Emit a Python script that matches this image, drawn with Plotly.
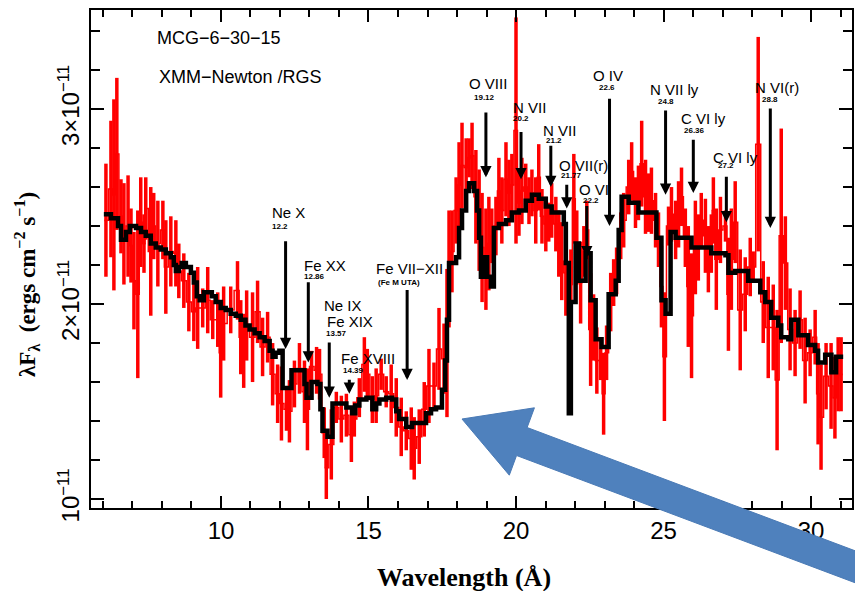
import plotly.graph_objects as go

# ---------------- data (flux in units of 1e-11 erg cm^-2 s^-1) ----------------
data_wl = [6.10, 6.27, 6.37, 6.47, 6.61, 6.71, 6.85, 6.95, 7.05, 7.18, 7.28, 7.39, 7.45, 7.62, 7.72, 7.86,
           8.03, 8.13, 8.30, 8.47, 8.57, 8.74, 8.91, 9.08, 9.21, 9.38, 9.55, 9.72, 9.89, 9.99, 10.09, 10.33,
           10.56, 10.67, 10.77, 10.87, 11.07, 11.24, 11.41, 11.58, 11.75, 11.92, 12.05, 12.22, 12.32, 12.49,
           12.66, 12.83, 12.93, 13.07, 13.24, 13.34, 13.50, 13.57, 13.74, 13.91, 14.08, 14.25, 14.42, 14.52,
           14.69, 14.86, 14.96, 15.13, 15.26, 15.43, 15.60, 15.77, 15.94, 16.11, 16.28, 16.45, 16.55, 16.72,
           16.89, 17.05, 17.22, 17.39, 17.56, 17.66, 17.73, 17.83, 17.97, 18.07, 18.17, 18.31, 18.41, 18.51,
           18.64, 18.75, 18.85, 18.98, 19.08, 19.18, 19.32, 19.42, 19.52, 19.66, 19.76, 19.86, 20.00, 20.10,
           20.20, 20.33, 20.44, 20.54, 20.67, 20.77, 20.88, 21.01, 21.11, 21.21, 21.35, 21.45, 21.55, 21.69,
           21.86, 21.96, 22.06, 22.19, 22.30, 22.40, 22.53, 22.63, 22.74, 22.87, 22.97, 23.07, 23.21, 23.31,
           23.41, 23.55, 23.65, 23.82, 23.92, 24.05, 24.15, 24.26, 24.39, 24.49, 24.59, 24.73, 24.83, 24.93,
           25.03, 25.17, 25.27, 25.41, 25.51, 25.61, 25.74, 25.84, 25.95, 26.08, 26.18, 26.28, 26.42, 26.52,
           26.62, 26.69, 26.79, 26.93, 27.10, 27.20, 27.30, 27.43, 27.60, 27.77, 27.94, 28.04, 28.21, 28.38,
           28.55, 28.72, 28.85, 28.99, 29.13, 29.29, 29.46, 29.63, 29.80, 29.97, 30.14, 30.24, 30.34, 30.51,
           30.68, 30.81, 30.92, 31.02]
data_flux = [2.43, 2.59, 2.56, 2.77, 2.45, 2.36, 2.40, 2.30, 2.12, 2.05, 2.42, 2.31, 2.49, 2.27, 2.40, 2.31,
             2.38, 2.19, 2.27, 2.26, 2.17, 2.12, 2.01, 1.96, 1.98, 1.98, 2.02, 1.92, 1.92, 1.75, 1.90, 1.97,
             2.07, 1.83, 1.76, 1.89, 1.83, 1.96, 1.78, 1.83, 1.64, 1.54, 1.49, 1.46, 1.45, 1.59,
             1.67, 1.55, 1.46, 1.68, 1.66, 1.64, 1.34, 1.16, 1.28, 1.47, 1.41, 1.43, 1.33, 1.41,
             1.52, 1.69, 1.64, 1.51, 1.53, 1.64, 1.55, 1.54, 1.47, 1.37, 1.35, 1.31, 1.26, 1.32,
             1.46, 1.58, 1.58, 1.77, 1.72, 1.80, 2.18, 2.27, 2.48, 2.61, 2.71, 2.70, 2.75, 2.76,
             2.55, 2.43, 2.29, 2.23, 2.31, 2.35, 2.40, 2.58, 2.48, 2.64, 2.57, 2.61, 2.89, 2.52,
             2.58, 2.60, 2.53, 2.57, 2.48, 2.65, 2.45, 2.41, 2.42, 2.48, 2.41, 2.31, 2.22, 2.16,
             2.10, 2.54, 2.29, 2.11, 2.27, 2.38, 1.87, 1.88, 1.71, 1.71, 1.54, 1.75, 2.01, 2.11,
             2.17, 2.35, 2.43, 2.60, 2.68, 2.52, 2.57, 2.72, 2.55, 2.52, 2.53, 2.43, 2.33, 2.09,
             1.73, 2.40, 2.46, 2.38, 2.46, 2.55, 2.34, 2.09, 1.94, 2.29, 2.29, 2.43, 2.35, 2.23,
             2.31, 2.48, 2.23, 2.38, 2.40, 2.05, 2.23, 2.42, 1.97, 2.05, 2.19, 2.19, 2.82, 2.01,
             1.88, 1.88, 1.61, 2.35, 2.21, 1.87, 1.80, 1.92, 1.71, 1.75, 1.83, 1.54, 1.42, 1.63,
             1.58, 1.52, 1.64, 1.64]
data_err = [0.29, 0.35, 0.49, 0.39, 0.19, 0.26, 0.26, 0.19, 0.25, 0.43, 0.23, 0.15, 0.16, 0.33, 0.17, 0.22,
            0.15, 0.24, 0.18, 0.17, 0.14, 0.14, 0.15, 0.15, 0.21, 0.10, 0.17, 0.10, 0.14, 0.23, 0.19, 0.12,
            0.15, 0.19, 0.19, 0.18, 0.23, 0.16, 0.15, 0.13, 0.16, 0.15, 0.19, 0.11, 0.16, 0.12,
            0.13, 0.16, 0.21, 0.08, 0.12, 0.13, 0.13, 0.16, 0.18, 0.08, 0.12, 0.11, 0.14, 0.09,
            0.10, 0.14, 0.13, 0.12, 0.14, 0.08, 0.08, 0.15, 0.15, 0.15, 0.10, 0.16, 0.16, 0.14,
            0.14, 0.19, 0.12, 0.21, 0.18, 0.38, 0.30, 0.21, 0.17, 0.22, 0.22, 0.15, 0.10, 0.17,
            0.24, 0.26, 0.28, 0.26, 0.24, 0.14, 0.15, 0.17, 0.17, 0.19, 0.17, 0.16, 0.58, 0.17,
            0.17, 0.12, 0.12, 0.12, 0.17, 0.17, 0.14, 0.14, 0.10, 0.14, 0.14, 0.17, 0.20, 0.22,
            0.18, 0.23, 0.19, 0.21, 0.13, 0.15, 0.29, 0.17, 0.17, 0.10, 0.21, 0.14, 0.15, 0.12,
            0.12, 0.12, 0.14, 0.14, 0.15, 0.13, 0.14, 0.22, 0.19, 0.15, 0.17, 0.14, 0.14, 0.21,
            0.33, 0.10, 0.14, 0.15, 0.17, 0.15, 0.15, 0.31, 0.32, 0.24, 0.17, 0.14, 0.19, 0.17,
            0.15, 0.17, 0.26, 0.17, 0.08, 0.29, 0.26, 0.21, 0.31, 0.19, 0.15, 0.08, 0.55, 0.21,
            0.26, 0.22, 0.36, 0.55, 0.24, 0.21, 0.17, 0.15, 0.22, 0.12, 0.14, 0.26, 0.27, 0.17,
            0.22, 0.21, 0.19, 0.19]

model_wl = [6.03, 6.27, 6.51, 6.61, 6.78, 6.91, 7.12, 7.29, 7.45, 7.62, 7.79, 7.96, 8.13, 8.30, 8.40, 8.47,
            8.57, 8.67, 8.81, 8.98, 9.08, 9.18, 9.28, 9.42, 9.55, 9.69, 9.82, 9.99, 10.16, 10.33, 10.50,
            10.67, 10.83, 10.97, 11.14, 11.31, 11.48, 11.65, 11.75, 11.85, 11.98, 12.09, 12.32, 12.39,
            12.73, 12.83, 12.90, 13.07, 13.27, 13.37, 13.44, 13.61, 13.78, 14.01, 14.25, 14.45, 14.55,
            14.69, 14.93, 15.13, 15.26, 15.37, 15.60, 15.80, 15.94, 16.04, 16.28, 16.48, 16.72, 16.95,
            17.12, 17.29, 17.49, 17.60, 17.66, 17.73, 17.90, 17.97, 18.07, 18.17, 18.31, 18.41, 18.58,
            18.68, 18.75, 18.81, 18.91, 19.02, 19.15, 19.25, 19.42, 19.66, 19.86, 20.10, 20.33, 20.54,
            20.77, 21.01, 21.21, 21.52, 21.62, 21.69, 21.79, 21.86, 22.02, 22.13, 22.36, 22.53, 22.70,
            22.90, 23.14, 23.38, 23.48, 23.58, 23.82, 24.15, 24.76, 24.93, 25.07, 25.24, 25.41, 25.95,
            26.18, 26.62, 27.10, 27.20, 27.43, 27.87, 28.28, 28.45, 28.65, 28.89, 28.99, 29.23, 29.33,
            29.57, 29.90, 30.14, 30.24, 30.48, 30.69, 30.85, 31.09]
model_flux = [2.46, 2.44, 2.40, 2.33, 2.37, 2.40, 2.39, 2.37, 2.35, 2.31, 2.29, 2.28, 2.26, 2.24, 2.20, 2.17,
              2.19, 2.21, 2.19, 2.16, 2.11, 2.04, 2.02, 2.06, 2.06, 2.04, 2.01, 1.98, 1.97, 1.95, 1.94,
              1.92, 1.89, 1.87, 1.85, 1.83, 1.81, 1.76, 1.73, 1.75, 1.76, 1.57, 1.57, 1.66,
              1.66, 1.59, 1.52, 1.60, 1.59, 1.46, 1.35, 1.32, 1.49, 1.49, 1.47, 1.44, 1.48,
              1.51, 1.52, 1.46, 1.49, 1.51, 1.52, 1.51, 1.45, 1.41, 1.37, 1.39, 1.39, 1.44,
              1.46, 1.47, 1.56, 1.71, 1.92, 2.21, 2.21, 2.24, 2.39, 2.48, 2.58, 2.62, 2.58,
              2.48, 2.34, 2.14, 2.24, 2.14, 2.09, 2.39, 2.41, 2.43, 2.47, 2.48, 2.53, 2.56,
              2.54, 2.50, 2.47, 2.47, 2.41, 2.21, 1.44, 2.01, 2.31, 2.12, 2.26, 2.02, 1.82,
              1.78, 2.05, 2.12, 2.38, 2.55, 2.52, 2.47, 2.34, 2.02, 1.95, 2.37, 2.34, 2.29,
              2.29, 2.26, 2.25, 2.16, 2.17, 2.12, 2.06, 2.01, 1.93, 1.89, 1.83, 1.82, 1.92,
              1.84, 1.79, 1.76, 1.70, 1.74, 1.65, 1.73, 1.73]

# line identifications: label, rest wavelength text, arrow position (wavelength), arrow tail / tip flux
line_names = ["Ne X", "Fe XX", "Ne IX<br>Fe XIX", "Fe XVIII", "Fe VII\u2212XII", "O VIII", "N VII", "N VII",
              "O VII(r)", "O VI", "O IV", "N VII ly", "C VI ly", "C VI ly", "N VI(r)"]
line_waves = ["12.2", "12.86", "13.57", "14.39", "(Fe M UTA)", "19.12", "20.2", "21.2",
              "21.77", "22.2", "22.6", "24.8", "26.36", "27.2", "28.8"]
arrow_wl = [12.19, 12.96, 13.67, 14.35, 16.31, 18.98, 20.17, 21.18, 21.72, 22.40, 23.17, 25.07, 26.01, 27.13, 28.62]
arrow_tail = [2.33, 2.12, 1.81, 1.62, 2.08, 2.99, 2.89, 2.82, 2.62, 2.51, 3.06, 3.00, 2.85, 2.66, 3.01]
arrow_tip = [1.77, 1.70, 1.52, 1.54, 1.61, 2.65, 2.64, 2.60, 2.49, 2.24, 2.40, 2.56, 2.57, 2.42, 2.39]
# label anchor (left edge wavelength, flux of name line, flux of wavelength line)
label_wl = [11.65, 12.73, 13.44, 14.01, 15.20, 18.34, 19.83, 20.84, 21.38, 22.06, 22.53, 24.49, 25.51, 26.62, 28.04]
label_y = [2.47, 2.20, 1.99, 1.72, 2.18, 3.13, 3.01, 2.89, 2.71, 2.59, 3.17, 3.10, 2.95, 2.75, 3.11]
num_wl = [11.65, 12.73, 13.50, 14.08, 15.26, 18.51, 19.83, 20.94, 21.45, 22.19, 22.73, 24.73, 25.61, 26.79, 28.28]
num_y = [2.40, 2.14, 1.85, 1.66, 2.11, 3.06, 2.95, 2.84, 2.66, 2.53, 3.11, 3.04, 2.89, 2.71, 3.05]

y_tickvals = [1, 2, 3]
y_ticktext = ["10<sup>\u221211</sup>", "2\u00d710<sup>\u221211</sup>", "3\u00d710<sup>\u221211</sup>"]

X_RANGE = [5.594, 31.389]
Y_RANGE = [0.954, 3.508]

SANS = "Liberation Sans, Arial, Helvetica, sans-serif"
SERIF = "Liberation Serif, Times New Roman, serif"

fig = go.Figure()
fig.add_trace(go.Scatter(
    x=data_wl, y=data_flux, mode="lines",
    line=dict(color="#ff0000", width=1.5, shape="hvh"),
    hoverinfo="skip", showlegend=False))
fig.add_trace(go.Scatter(
    x=data_wl, y=data_flux, mode="markers",
    marker=dict(size=3, color="#ff0000"),
    error_y=dict(type="data", array=data_err, visible=True, color="#ff0000", thickness=3.5, width=0),
    hoverinfo="skip", showlegend=False))
fig.add_trace(go.Scatter(
    x=model_wl, y=model_flux, mode="lines",
    line=dict(color="black", width=4.5, shape="hv"),
    hoverinfo="skip", showlegend=False))

ann = []
for i in range(len(line_names)):
    ann.append(dict(x=arrow_wl[i], y=arrow_tip[i], ax=arrow_wl[i], ay=arrow_tail[i],
                    xref="x", yref="y", axref="x", ayref="y", text="", showarrow=True,
                    arrowhead=2, arrowsize=0.75, arrowwidth=3, arrowcolor="black",
                    standoff=0, startstandoff=0))
    nm = line_names[i]
    if "<br>" in nm:
        parts = nm.split("<br>")
        ann.append(dict(x=label_wl[i], y=label_y[i], xref="x", yref="y", text=parts[0],
                        showarrow=False, xanchor="left", yanchor="middle",
                        font=dict(family=SANS, size=15, color="black")))
        ann.append(dict(x=label_wl[i] + 0.07, y=label_y[i] - 0.077, xref="x", yref="y", text=parts[1],
                        showarrow=False, xanchor="left", yanchor="middle",
                        font=dict(family=SANS, size=15, color="black")))
    else:
        ann.append(dict(x=label_wl[i], y=label_y[i], xref="x", yref="y", text=nm,
                        showarrow=False, xanchor="left", yanchor="middle",
                        font=dict(family=SANS, size=15, color="black")))
    ann.append(dict(x=num_wl[i], y=num_y[i], xref="x", yref="y", text="<b>%s</b>" % line_waves[i],
                    showarrow=False, xanchor="left", yanchor="middle",
                    font=dict(family=SANS, size=8, color="black")))

ann.append(dict(x=7.76, y=3.364, xref="x", yref="y", text="MCG\u22126\u221230\u221215", showarrow=False,
                xanchor="left", yanchor="middle", font=dict(family=SANS, size=18, color="black")))
ann.append(dict(x=7.83, y=3.164, xref="x", yref="y", text="XMM\u2212Newton /RGS", showarrow=False,
                xanchor="left", yanchor="middle", font=dict(family=SANS, size=18, color="black")))

# axis titles
ann.append(dict(x=0.490, y=-0.1386, xref="paper", yref="paper", text="<b>Wavelength (\u00c5)</b>",
                showarrow=False, xanchor="center", yanchor="middle",
                font=dict(family=SERIF, size=26, color="black")))
ann.append(dict(x=-0.0839, y=0.448, xref="paper", yref="paper",
                text="<b>\u03bbF<sub>\u03bb</sub>  (ergs cm<sup>\u22122</sup> s<sup>\u22121</sup>)</b>",
                showarrow=False, xanchor="center", yanchor="middle", textangle=-90,
                font=dict(family=SERIF, size=23, color="black")))

# decorative blue block arrow (pixel geometry -> paper coordinates)
def pp(px, py):
    return (px - 91) / 763.0, (508 - py) / 498.0

pts = [(463, 419), (535.6, 407.8), (528.3, 427.5), (908.3, 570), (897.7, 598), (517.7, 455.5), (510.4, 475.2)]
path = "M " + " L ".join("%.4f,%.4f" % pp(a, b) for a, b in pts) + " Z"

fig.update_layout(
    width=855, height=591,
    margin=dict(l=91, r=1, t=10, b=83, pad=0),
    paper_bgcolor="white", plot_bgcolor="white",
    font=dict(family=SANS, color="black"),
    showlegend=False,
    annotations=ann,
    shapes=[dict(type="path", path=path, xref="paper", yref="paper",
                 fillcolor="#4f81bd", line=dict(color="#4a7ab5", width=1), layer="above")],
    xaxis=dict(range=X_RANGE, showgrid=False, zeroline=False, showline=True, linewidth=2,
               linecolor="black", mirror="ticks", ticks="inside", ticklen=12, tickwidth=2,
               tickcolor="black", tick0=0, dtick=5, tickfont=dict(family=SANS, size=24),
               minor=dict(tick0=0, dtick=1, ticks="inside", ticklen=7, tickwidth=1.5, tickcolor="black")),
    yaxis=dict(range=Y_RANGE, showgrid=False, zeroline=False, showline=True, linewidth=2,
               linecolor="black", mirror="ticks", ticks="inside", ticklen=13, tickwidth=2,
               tickcolor="black", tickmode="array", tickvals=y_tickvals, ticktext=y_ticktext,
               tickangle=-90, tickfont=dict(family=SANS, size=24),
               minor=dict(tickmode="linear", tick0=0, dtick=0.2, ticks="inside", ticklen=9,
                          tickwidth=1.5, tickcolor="black")),
)

fig.write_html("out.html")
